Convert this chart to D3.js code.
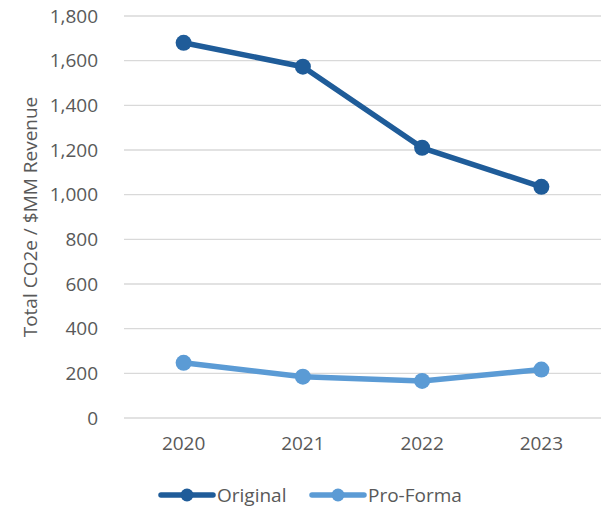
<!DOCTYPE html>
<html><head><meta charset="utf-8">
<script src="https://cdn.jsdelivr.net/npm/d3@7"></script>
<style>body{margin:0;background:#fff}svg{display:block}text{font-family:"Open Sans",sans-serif;fill:#595959}</style>
</head><body>
<script>
const years = ["2020","2021","2022","2023"];
const original = [1680, 1573, 1210, 1035];
const proForma = [247, 185, 166, 217];
const yTicks = [0,200,400,600,800,1000,1200,1400,1600,1800];
const seriesNames = ["Original","Pro-Forma"];
const colors = ["#1F5C99","#5B9BD5"];

const W=612,H=507, FS="19px";
const svg=d3.select("body").append("svg").attr("width",W).attr("height",H);
const x=d3.scaleBand().domain(years).range([124,601]);
const y=d3.scaleLinear().domain([0,1800]).range([418,16]);

const grid=svg.append("g");
yTicks.forEach(t=>{
  grid.append("line").attr("x1",124).attr("x2",601).attr("y1",y(t)).attr("y2",y(t))
    .attr("stroke","#D9D9D9").attr("stroke-width",1.3);
});
const yAx=svg.append("g").attr("transform","translate(124,0)")
  .call(d3.axisLeft(y).tickValues(yTicks).tickSize(0).tickPadding(26).tickFormat(d3.format(",")));
yAx.select(".domain").remove();
yAx.selectAll("text").style("font-size",FS).attr("fill","#595959").style("font-family","'Open Sans',sans-serif");

const xAx=svg.append("g").attr("transform","translate(0,418)")
  .call(d3.axisBottom(x).tickSize(0).tickPadding(19));
xAx.select(".domain").remove();
xAx.selectAll("text").style("font-size",FS).attr("fill","#595959").style("font-family","'Open Sans',sans-serif");

svg.append("text").attr("transform","translate(37,217) rotate(-90)").attr("text-anchor","middle")
  .style("font-size",FS).text("Total CO2e / $MM Revenue");

const cx=d=>x(d)+x.bandwidth()/2;
[original,proForma].forEach((vals,i)=>{
  const data=years.map((yr,j)=>({yr,v:vals[j]}));
  svg.append("path").datum(data).attr("fill","none").attr("stroke",colors[i]).attr("stroke-width",5.5)
    .attr("stroke-linejoin","round").attr("d",d3.line().x(d=>cx(d.yr)).y(d=>y(d.v)));
  svg.selectAll(null).data(data).enter().append("circle").attr("cx",d=>cx(d.yr)).attr("cy",d=>y(d.v))
    .attr("r",8).attr("fill",colors[i]);
});

const legX=[159,310];
seriesNames.forEach((n,i)=>{
  const g=svg.append("g").attr("transform",`translate(${legX[i]},495)`);
  g.append("line").attr("x1",2).attr("x2",54).attr("stroke",colors[i]).attr("stroke-width",5.5).attr("stroke-linecap","round");
  g.append("circle").attr("cx",28).attr("r",6.5).attr("fill",colors[i]);
  g.append("text").attr("x",58).attr("y",6.5).style("font-size",FS).text(n);
});
</script>
</body></html>
